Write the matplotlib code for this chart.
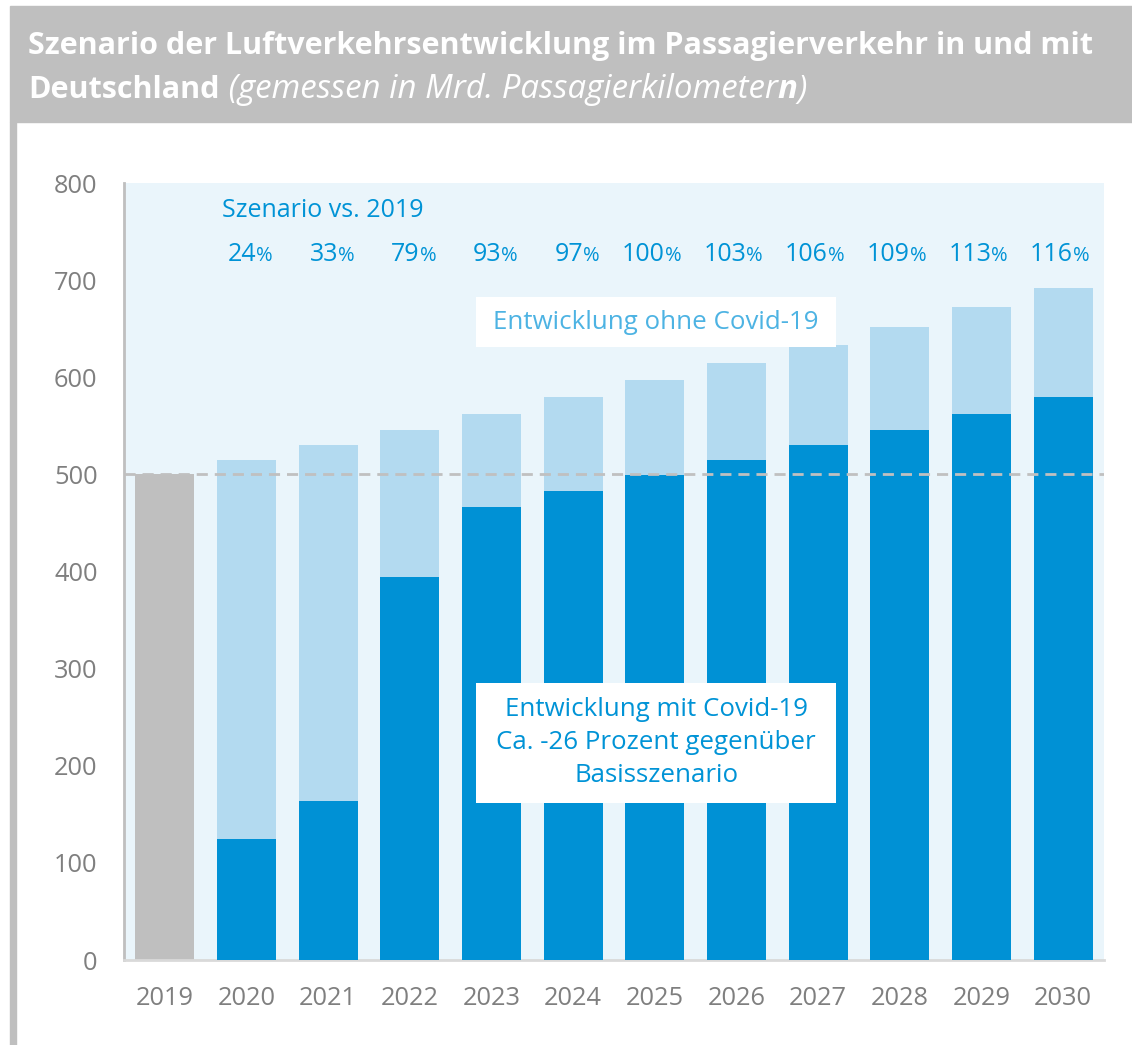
import numpy as np
import matplotlib
matplotlib.use("Agg")
import matplotlib.pyplot as plt
from matplotlib.patches import Rectangle

plt.rcParams['font.family'] = ['Open Sans', 'DejaVu Sans']

# data (Mrd. Passagierkilometer)
years = ['2019', '2020', '2021', '2022', '2023', '2024', '2025', '2026', '2027', '2028', '2029', '2030']
ref_2019 = 500
ohne_covid = [None, 515, 530, 546, 562, 580, 597, 615, 633, 652, 672, 692]
mit_covid = [None, 125, 164, 394, 466, 483, 499, 515, 530, 546, 562, 580]
pct_vs_2019 = ['24', '33', '79', '93', '97', '100', '103', '106', '109', '113', '116']
y_ticks = [0, 100, 200, 300, 400, 500, 600, 700, 800]

DARK = '#0091d5'
LIGHT = '#b3daf0'
BG = '#eaf5fb'
GREY = '#bfbfbf'
TXT = '#0093d6'
TICK = '#7f7f7f'

W, H = 1132, 1045
fig = plt.figure(figsize=(W / 100, H / 100), dpi=100)

# frame: grey title banner and left border
fig.patches.append(Rectangle((10 / W, 1 - 122 / H), 1 - 10 / W, 116 / H,
                             transform=fig.transFigure, color=GREY, zorder=0))
fig.patches.append(Rectangle((10 / W, 0), 6 / W, 1 - 122 / H,
                             transform=fig.transFigure, color=GREY, zorder=0))

ax = fig.add_axes([124 / W, 85 / H, 980 / W, 777 / H])
ax.set_facecolor(BG)

x = np.arange(len(years))
bw = 0.72
ax.bar(x[0], ref_2019, width=bw, color=GREY, zorder=2)
ax.bar(x[1:], ohne_covid[1:], width=bw, color=LIGHT, zorder=2)
ax.bar(x[1:], mit_covid[1:], width=bw, color=DARK, zorder=3)
ax.axhline(ref_2019, color='#c0c0c0', lw=2, ls=(0, (4, 2.5)), zorder=4)

ax.set_xlim(-0.5, len(years) - 0.5)
ax.set_ylim(0, 800)
ax.set_yticks(y_ticks)
ax.set_xticks(x)
ax.set_xticklabels(years)
ax.tick_params(axis='both', length=0, labelsize=18.3, labelcolor=TICK)
ax.tick_params(axis='y', pad=19)
ax.tick_params(axis='x', pad=19)
for s in ['top', 'right']:
    ax.spines[s].set_visible(False)
ax.spines['left'].set_color(GREY)
ax.spines['left'].set_linewidth(2)
ax.spines['bottom'].set_color('#d9d9d9')
ax.spines['bottom'].set_linewidth(2)

# scenario percentages
ax.text(0.10, 0.965, 'Szenario vs. 2019', transform=ax.transAxes, color=TXT,
        fontsize=18, ha='left', va='center')
for xi, p in zip(x[1:], pct_vs_2019):
    ax.text(xi + 0.12, 0.908, p, transform=ax.get_xaxis_transform(), color=TXT,
            fontsize=18, ha='right', va='center')
    ax.text(xi + 0.12, 0.906, '%', transform=ax.get_xaxis_transform(), color=TXT,
            fontsize=14.5, ha='left', va='center')

# annotation boxes
ax.add_patch(Rectangle((0.359, 0.789), 0.368, 0.064, transform=ax.transAxes,
                       facecolor='white', edgecolor='none', zorder=5))
ax.text(0.543, 0.821, 'Entwicklung ohne Covid-19', transform=ax.transAxes,
        color='#4db3e3', fontsize=18.6, ha='center', va='center', zorder=6)
ax.add_patch(Rectangle((0.359, 0.202), 0.368, 0.155, transform=ax.transAxes,
                       facecolor='white', edgecolor='none', zorder=5))
ax.text(0.543, 0.2795, 'Entwicklung mit Covid-19\nCa. -26 Prozent gegenüber\nBasisszenario',
        transform=ax.transAxes, color=TXT, fontsize=18.6, ha='center', va='center',
        linespacing=1.42, zorder=6)

# title
fig.text(28 / W, 1 - 46 / H, 'Szenario der Luftverkehrsentwicklung im Passagierverkehr in und mit',
         color='white', fontsize=22, fontweight='bold', va='center')
fig.canvas.draw()
r = fig.canvas.get_renderer()
xpos = 28
pieces = [('Deutschland', 'bold', 'normal', 22),
          (' (gemessen in Mrd. Passagierkilometer', 'normal', 'italic', 23.8),
          ('n', 'bold', 'italic', 23.8),
          (')', 'normal', 'italic', 23.8)]
for s, wt, st, fs in pieces:
    t = fig.text(xpos / W, 1 - 90 / H, s, color='white', fontsize=fs,
                 fontweight=wt, fontstyle=st, va='center')
    xpos += t.get_window_extent(r).width

fig.savefig('out.png', dpi=100)
